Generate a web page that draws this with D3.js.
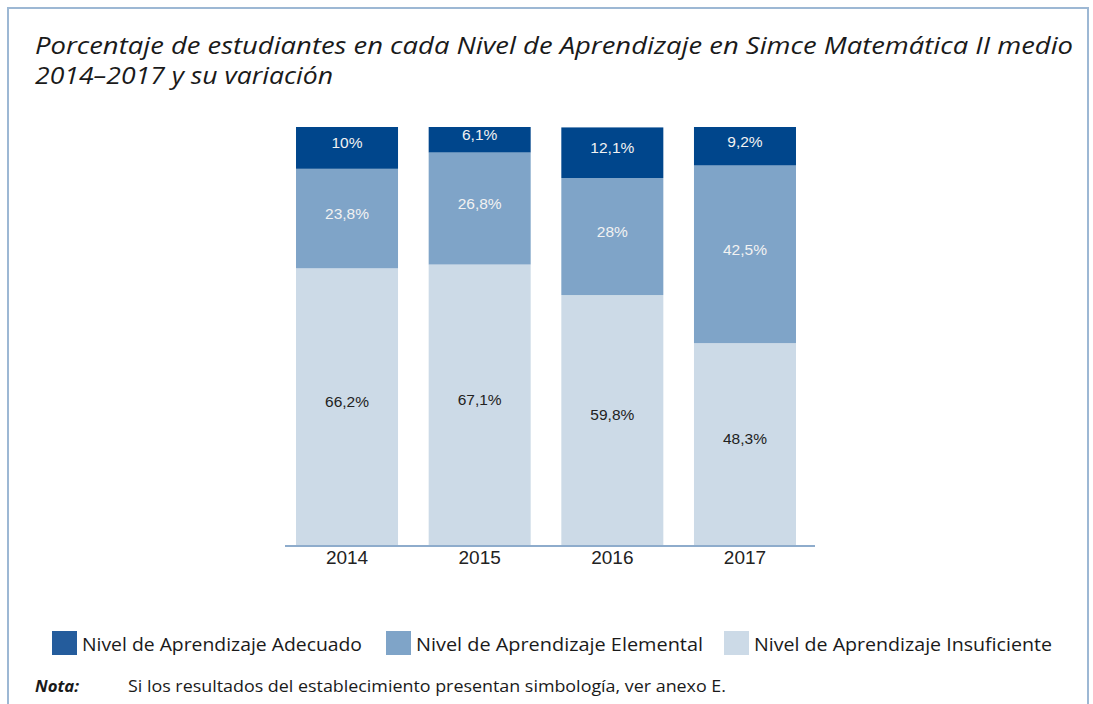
<!DOCTYPE html>
<html lang="es">
<head>
<meta charset="UTF-8">
<title>Simce Matemática II medio</title>
<script src="https://d3js.org/d3.v7.min.js"></script>
<style>
    body { margin: 0; background: #fff; }
    svg { display: block; }
    .title { font-family: "Open Sans", sans-serif; font-style: italic; font-size: 23px; fill: #1a1a1a; }
    .seg-label { font-family: "Liberation Sans", Arial, sans-serif; font-size: 15.5px; }
    .tick-label { font-family: "Liberation Sans", Arial, sans-serif; font-size: 19px; fill: #222; }
    .legend-text { font-family: "Open Sans", sans-serif; font-size: 19px; fill: #1a1a1a; }
    .note { font-family: "Open Sans", sans-serif; font-size: 16px; fill: #1a1a1a; }
</style>
</head>
<body>
<div id="chart"></div>
<script>
// datos
const years = ["2014", "2015", "2016", "2017"];
const levels = ["Adecuado", "Elemental", "Insuficiente"];
const adecuado = [10, 6.1, 12.1, 9.2];
const elemental = [23.8, 26.8, 28, 42.5];
const insuficiente = [66.2, 67.1, 59.8, 48.3];
const legendLabels = ["Nivel de Aprendizaje Adecuado", "Nivel de Aprendizaje Elemental", "Nivel de Aprendizaje Insuficiente"];

const width = 1093, height = 704;
const colors = { Adecuado: "#00468c", Elemental: "#7fa4c8", Insuficiente: "#ccdae7" };
const legendColors = ["#245c9c", "#7fa4c8", "#ccdae7"];

const svg = d3.select("#chart").append("svg")
    .attr("width", width).attr("height", height);

// marco
svg.append("path")
    .attr("d", `M8,${height} V8 H1088 V${height}`)
    .attr("fill", "none").attr("stroke", "#9db8d4").attr("stroke-width", 2);

// título
svg.append("text").attr("class", "title").attr("x", 35).attr("y", 54)
    .attr("textLength", 1038).attr("lengthAdjust", "spacingAndGlyphs")
    .text("Porcentaje de estudiantes en cada Nivel de Aprendizaje en Simce Matemática II medio");
svg.append("text").attr("class", "title").attr("x", 35).attr("y", 84)
    .attr("textLength", 298).attr("lengthAdjust", "spacingAndGlyphs")
    .text("2014–2017 y su variación");

// escalas
const x = d3.scaleBand().domain(years).range([285, 807]).paddingInner(0.231).paddingOuter(0.083);
const y = d3.scaleLinear().domain([0, 100]).range([545, 127]);

const rows = years.map((yr, i) => ({
    year: yr,
    Adecuado: adecuado[i],
    Elemental: elemental[i],
    Insuficiente: insuficiente[i]
}));

// apilar desde abajo: Insuficiente, Elemental, Adecuado
const stack = d3.stack().keys(["Insuficiente", "Elemental", "Adecuado"]);
const series = stack(rows);

const fmt = v => String(v).replace(".", ",") + "%";

const groups = svg.append("g").selectAll("g")
    .data(series).join("g")
    .attr("fill", d => colors[d.key]);

groups.selectAll("rect")
    .data(d => d.map(s => Object.assign(s, { key: d.key })))
    .join("rect")
    .attr("x", d => x(d.data.year))
    .attr("width", x.bandwidth())
    .attr("y", d => y(d[1]))
    .attr("height", d => y(d[0]) - y(d[1]));

groups.selectAll("text")
    .data(d => d)
    .join("text")
    .attr("class", "seg-label")
    .attr("x", d => x(d.data.year) + x.bandwidth() / 2)
    .attr("y", d => (y(d[0]) + y(d[1])) / 2 - 5)
    .attr("dy", "0.35em")
    .attr("text-anchor", "middle")
    .attr("fill", d => d.key === "Insuficiente" ? "#222" : "#f2f2f2")
    .text(d => fmt(d.data[d.key]));

// eje x
const xAxis = svg.append("g").attr("transform", "translate(0,546)")
    .call(d3.axisBottom(x).tickSize(0).tickPadding(5));
xAxis.select(".domain").attr("stroke", "#8eaccc").attr("stroke-width", 2).attr("d", "M285,0H815");
xAxis.selectAll(".tick text").attr("class", "tick-label").attr("fill", "#222");

// leyenda
const legendX = [52, 386, 724];
const legendW = [280, 287, 298];
const legend = svg.append("g").selectAll("g")
    .data(legendLabels).join("g")
    .attr("transform", (d, i) => `translate(${legendX[i]},631)`);
legend.append("rect").attr("width", 25).attr("height", 24)
    .attr("fill", (d, i) => legendColors[i]);
legend.append("text").attr("class", "legend-text").attr("x", 30).attr("y", 20)
    .attr("textLength", (d, i) => legendW[i]).attr("lengthAdjust", "spacingAndGlyphs")
    .text(d => d);

// nota
svg.append("text").attr("class", "note").attr("x", 35).attr("y", 692)
    .attr("font-weight", "bold").attr("font-style", "italic")
    .attr("textLength", 44).attr("lengthAdjust", "spacingAndGlyphs")
    .text("Nota:");
svg.append("text").attr("class", "note").attr("x", 128).attr("y", 692)
    .attr("textLength", 598).attr("lengthAdjust", "spacingAndGlyphs")
    .text("Si los resultados del establecimiento presentan simbología, ver anexo E.");
</script>
</body>
</html>
